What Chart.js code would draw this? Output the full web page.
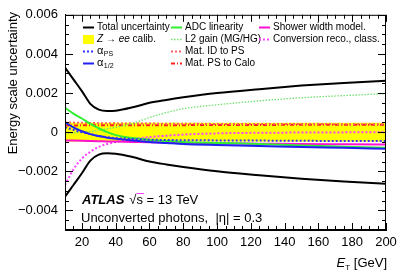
<!DOCTYPE html>
<html>
<head>
<meta charset="utf-8">
<script src="https://cdn.jsdelivr.net/npm/chart.js@4.4.1/dist/chart.umd.min.js"></script>
<style>
  html, body { margin: 0; padding: 0; background: #fff; }
  #wrap { width: 407px; height: 276px; }
</style>
</head>
<body>
<div id="wrap"><canvas id="myChart" width="407" height="276"></canvas></div>
<script>
// Data (E_T in GeV, relative energy scale uncertainty)
const eT = [10, 15, 20, 25, 30, 35, 40, 50, 60, 70, 80, 100, 125, 150, 175, 200];
const totalUp = [0.0033, 0.0027, 0.0021, 0.00145, 0.00115, 0.00108, 0.0011, 0.00127, 0.0015, 0.00165, 0.00178, 0.002, 0.0022, 0.00238, 0.00252, 0.00263];
const totalDown = [-0.0033, -0.0027, -0.0021, -0.00145, -0.00115, -0.00108, -0.0011, -0.00127, -0.0015, -0.00165, -0.00178, -0.002, -0.0022, -0.00238, -0.00252, -0.00263];
const alphaPS = [0.00025, 0.00012, 0.0, -0.0001, -0.0002, -0.00026, -0.0003, -0.00035, -0.00038, -0.0004, -0.00041, -0.00042, -0.00043, -0.00044, -0.00045, -0.00045];
const alpha12 = [0.0005, 0.00025, 0.00005, -0.0001, -0.0002, -0.00028, -0.00034, -0.00043, -0.0005, -0.00055, -0.0006, -0.00065, -0.0007, -0.00076, -0.0008, -0.00085];
const adcLin = [0.00125, 0.00095, 0.0007, 0.00042, 0.0002, 0.0, -0.00015, -0.0003, -0.0004, -0.00045, -0.0005, -0.00055, -0.0006, -0.00068, -0.00074, -0.0008];
const l2Gain = [-0.00008, -0.00004, 0.0, 0.00004, 0.0001, 0.00017, 0.00025, 0.00045, 0.00075, 0.001, 0.0012, 0.0014, 0.0016, 0.00176, 0.00187, 0.00197];
const matIDtoPS = [0.0005, 0.00049, 0.00048, 0.00047, 0.00046, 0.00046, 0.00045, 0.00044, 0.00044, 0.00043, 0.00043, 0.00042, 0.00042, 0.00042, 0.00041, 0.00041];
const matPStoCalo = [0.00034, 0.00034, 0.00035, 0.00035, 0.00035, 0.00035, 0.00035, 0.00035, 0.00036, 0.00036, 0.00036, 0.00037, 0.00037, 0.00038, 0.00038, 0.00038];
const showerWidth = [-0.00042, -0.00043, -0.00044, -0.00045, -0.00046, -0.00047, -0.00048, -0.0005, -0.00052, -0.00053, -0.00055, -0.00057, -0.00059, -0.00061, -0.00062, -0.00063];
const conversion = [-0.0027, -0.0019, -0.00135, -0.001, -0.00075, -0.0006, -0.0005, -0.00035, -0.00025, -0.00018, -0.00012, -0.00006, -0.00003, -0.00002, -0.00001, 0.0];
// Z->ee calibration band
const zeeX = [10, 200];
const zeeUp = [0.00048, 0.00048];
const zeeDown = -0.00048;

const xTickValues = [20, 40, 60, 80, 100, 120, 140, 160, 180, 200];
const yTickValues = [-0.004, -0.002, 0, 0.002, 0.004, 0.006];
const yTickLabels = ['\u22120.004', '\u22120.002', '0', '0.002', '0.004', '0.006'];

const FONT = '"Liberation Sans", Arial, Helvetica, sans-serif';

const pts = (xs, ys) => xs.map((x, i) => ({ x: x, y: ys[i] }));

function line(label, ys, color, width, dash) {
  return {
    label: label,
    data: pts(eT, ys),
    borderColor: color,
    borderWidth: width,
    borderDash: dash || [],
    pointRadius: 0,
    fill: false,
    cubicInterpolationMode: 'monotone'
  };
}

const datasets = [
  line('Total uncertainty', totalUp, '#000000', 2),
  line('', totalDown, '#000000', 2),
  line('\u03b1PS', alphaPS, '#3030ff', 2, [2, 2]),
  line('\u03b11/2', alpha12, '#2020f0', 2),
  line('ADC linearity', adcLin, '#30ee30', 2),
  line('L2 gain (MG/HG)', l2Gain, '#70e070', 1.3, [1.5, 1.5]),
  line('Mat. ID to PS', matIDtoPS, '#ff6060', 2, [2, 2]),
  line('Mat. PS to Calo', matPStoCalo, '#ff2020', 2, [4, 2, 1, 2]),
  line('Shower width model.', showerWidth, '#ff10d0', 2),
  line('Conversion reco., class.', conversion, '#ff40ff', 2, [2, 2]),
  {
    label: 'Z \u2192 ee calib.',
    data: pts(zeeX, zeeUp),
    borderColor: '#ffff00',
    borderWidth: 0,
    backgroundColor: '#ffff00',
    pointRadius: 0,
    fill: { value: zeeDown }
  }
];

// legend layout: [dataset index, column x, row]
const legendItems = [
  [0, 83, 0], [10, 83, 1], [2, 83, 2], [3, 83, 3],
  [4, 171, 0], [5, 171, 1], [6, 171, 2], [7, 171, 3],
  [8, 259, 0], [9, 259, 1]
];

const atlasDecor = {
  id: 'atlasDecor',
  afterDraw(chart) {
    const ctx = chart.ctx;
    const a = chart.chartArea;
    const xs = chart.scales.x;
    const ys = chart.scales.y;
    ctx.save();
    ctx.strokeStyle = '#000';
    ctx.lineWidth = 1;
    ctx.setLineDash([]);
    ctx.strokeRect(a.left + 0.5, a.top + 0.5, a.right - a.left - 1, a.bottom - a.top - 1);

    // ticks inside the frame
    ctx.beginPath();
    for (let v = 10; v <= 200; v += 5) {
      const px = Math.round(xs.getPixelForValue(v)) + 0.5;
      const len = xTickValues.includes(v) ? 7 : 4;
      ctx.moveTo(px, a.bottom); ctx.lineTo(px, a.bottom - len);
      ctx.moveTo(px, a.top); ctx.lineTo(px, a.top + len);
    }
    for (let k = -10; k <= 12; k++) {
      const v = k * 0.0005;
      const py = Math.round(ys.getPixelForValue(v)) + 0.5;
      const len = (k % 4 === 0) ? 8 : 4;
      ctx.moveTo(a.left, py); ctx.lineTo(a.left + len, py);
      ctx.moveTo(a.right, py); ctx.lineTo(a.right - len, py);
    }
    ctx.stroke();

    // legend
    ctx.textBaseline = 'middle';
    legendItems.forEach(([di, x0, row]) => {
      const ds = chart.data.datasets[di];
      const y = 27 + row * 12;
      if (di === 10) {
        ctx.fillStyle = '#ffff00';
        ctx.fillRect(x0, y - 4, 11, 9);
      } else {
        ctx.strokeStyle = ds.borderColor;
        ctx.lineWidth = ds.borderWidth;
        ctx.setLineDash(ds.borderDash);
        ctx.beginPath();
        ctx.moveTo(x0, y + 0.5); ctx.lineTo(x0 + 11, y + 0.5);
        ctx.stroke();
        ctx.setLineDash([]);
      }
      ctx.fillStyle = '#000';
      const tx = x0 + 14;
      if (di === 2 || di === 3) {
        ctx.font = '11px ' + FONT;
        ctx.fillText('\u03b1', tx, y);
        const w = ctx.measureText('\u03b1').width;
        ctx.font = '7px ' + FONT;
        ctx.fillText(di === 2 ? 'PS' : '1/2', tx + w + 0.5, y + 3);
      } else if (di === 10) {
        let x = tx;
        ctx.font = 'italic 10px ' + FONT;
        ctx.fillText('Z', x, y); x += ctx.measureText('Z ').width;
        ctx.font = '10px ' + FONT;
        ctx.fillText('\u2192', x, y); x += ctx.measureText('\u2192 ').width;
        ctx.font = 'italic 10px ' + FONT;
        ctx.fillText('ee', x, y); x += ctx.measureText('ee').width;
        ctx.font = '10px ' + FONT;
        ctx.fillText(' calib.', x, y);
      } else {
        ctx.font = '10px ' + FONT;
        ctx.fillText(ds.label, tx, y);
      }
    });

    // ATLAS label
    ctx.textBaseline = 'alphabetic';
    ctx.font = 'bold italic 13px ' + FONT;
    ctx.fillText('ATLAS', 82, 204);
    let x = 82 + ctx.measureText('ATLAS').width + 5;
    ctx.font = '13px ' + FONT;
    ctx.fillText('\u221a', x, 204);
    x += ctx.measureText('\u221a').width;
    const sw = ctx.measureText('s').width;
    ctx.fillText('s', x, 204);
    ctx.lineWidth = 1;
    ctx.beginPath(); ctx.moveTo(x, 193.5); ctx.lineTo(x + sw + 1, 193.5); ctx.stroke();
    x += sw;
    ctx.fillText(' = 13 TeV', x, 204);
    ctx.fillText('Unconverted photons,  |\u03b7| = 0.3', 81, 222);

    // x-axis title
    ctx.textAlign = 'right';
    ctx.fillText(' [GeV]', 387, 267);
    const gw = ctx.measureText(' [GeV]').width;
    ctx.font = '8px ' + FONT;
    ctx.fillText('T', 387 - gw, 270);
    const tw = ctx.measureText('T').width;
    ctx.font = 'italic 13px ' + FONT;
    ctx.fillText('E', 387 - gw - tw, 267);

    // y-axis title
    ctx.translate(17, 12);
    ctx.rotate(-Math.PI / 2);
    ctx.textAlign = 'right';
    ctx.font = '13px ' + FONT;
    ctx.fillText('Energy scale uncertainty', 0, 0);
    ctx.restore();
  }
};

const chart = new Chart(document.getElementById('myChart').getContext('2d'), {
  type: 'line',
  data: { datasets: datasets },
  options: {
    responsive: false,
    animation: false,
    devicePixelRatio: 1,
    layout: { padding: { top: 14, right: 21, left: 0, bottom: 0 } },
    plugins: { legend: { display: false }, tooltip: { enabled: false } },
    scales: {
      x: {
        type: 'linear',
        min: 10,
        max: 200,
        afterBuildTicks: (s) => { s.ticks = xTickValues.map(v => ({ value: v })); },
        afterFit: (s) => { s.height = 46; },
        grid: { display: false, drawTicks: false },
        border: { display: true, color: '#000' },
        ticks: { color: '#000', font: { family: FONT, size: 13 }, padding: 5, maxRotation: 0, autoSkip: false }
      },
      y: {
        type: 'linear',
        min: -0.005,
        max: 0.006,
        afterBuildTicks: (s) => { s.ticks = yTickValues.map(v => ({ value: v })); },
        afterFit: (s) => { s.width = 65; },
        grid: { display: false, drawTicks: false },
        border: { display: true, color: '#000' },
        ticks: {
          color: '#000', font: { family: FONT, size: 13 }, padding: 7,
          callback: (v) => {
            const i = yTickValues.findIndex(t => Math.abs(t - v) < 1e-9);
            return i >= 0 ? yTickLabels[i] : '';
          }
        }
      }
    }
  },
  plugins: [atlasDecor]
});
</script>
</body>
</html>
